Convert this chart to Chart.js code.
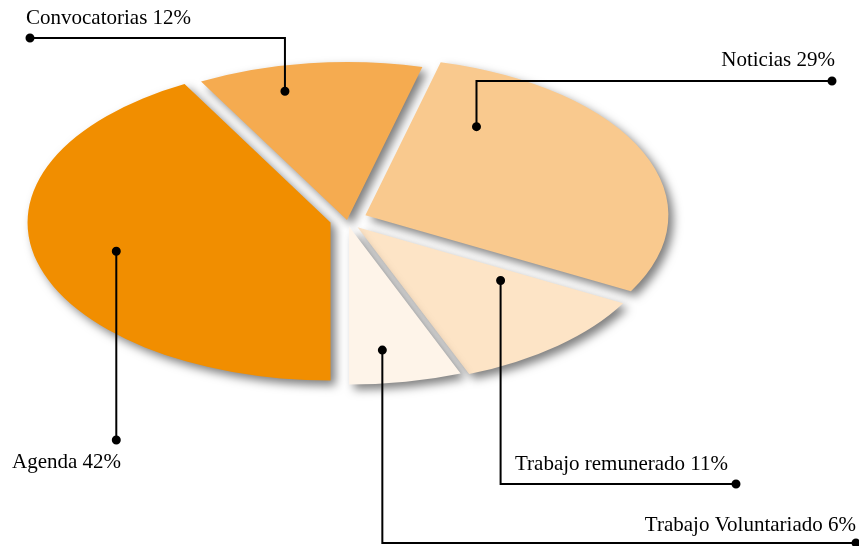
<!DOCTYPE html>
<html>
<head>
<meta charset="utf-8">
<script src="https://cdn.jsdelivr.net/npm/chart.js@4"></script>
<style>
  body { margin: 0; background: #fff; }
</style>
</head>
<body>
<canvas id="pieChart" width="859" height="546"></canvas>
<script>
// data, clockwise starting from the bottom
const categories = ['Agenda', 'Convocatorias', 'Noticias', 'Trabajo remunerado', 'Trabajo Voluntariado']
const shares = [42, 12, 29, 11, 6]

const colors = ['#F18E00', '#F5AB50', '#F9C98E', '#FDE4C6', '#FEF4E9']

// flattened pie: centre and radii in page pixels
const PIE = { x: 347, y: 220, rx: 303, ry: 158 }
const explode = [17, 0, 20, 16, 11]

// where the leader dot sits inside each slice (fraction of the sweep, fraction of radius)
const anchors = [[0.5, 0.73], [0.34, 0.84], [0.18, 0.67], [0.17, 0.58], [0.63, 0.79]]

// leader line + text layout
const callouts = [
  { lineY: 440, endX: null, textX: 12, textY: 468, align: 'left' },
  { lineY: 38, endX: 30, textX: 26, textY: 24, align: 'left' },
  { lineY: 81, endX: 832, textX: 835, textY: 66, align: 'right' },
  { lineY: 484, endX: 736, textX: 515, textY: 470, align: 'left' },
  { lineY: 543, endX: 856, textX: 856, textY: 531, align: 'right' }
]

function shift(arc, i) {
  const mid = (arc.startAngle + arc.endAngle) / 2
  return { dx: Math.cos(mid) * explode[i], dy: Math.sin(mid) * explode[i] * 0.6 }
}

const flatPie = {
  id: 'flatPie',
  beforeDatasetDraw(chart, args) {
    const ctx = chart.ctx
    const arcs = args.meta.data
    ctx.save()
    ctx.shadowColor = 'rgba(0,0,0,0.5)'
    ctx.shadowBlur = 10
    ctx.shadowOffsetX = 5
    ctx.shadowOffsetY = 5
    arcs.forEach((arc, i) => {
      const s = shift(arc, i)
      ctx.save()
      ctx.translate(PIE.x + s.dx, PIE.y + s.dy)
      ctx.scale(PIE.rx / arc.outerRadius, PIE.ry / arc.outerRadius)
      ctx.translate(-arc.x, -arc.y)
      arc.draw(ctx)
      ctx.restore()
    })
    ctx.restore()
    return false
  },
  afterDraw(chart) {
    const ctx = chart.ctx
    const arcs = chart.getDatasetMeta(0).data
    ctx.save()
    ctx.strokeStyle = '#000'
    ctx.fillStyle = '#000'
    ctx.lineWidth = 2
    ctx.font = '21px "Liberation Serif"'
    ctx.textBaseline = 'alphabetic'
    arcs.forEach((arc, i) => {
      const s = shift(arc, i)
      const a = arc.startAngle + (arc.endAngle - arc.startAngle) * anchors[i][0]
      const px = PIE.x + s.dx + Math.cos(a) * PIE.rx * anchors[i][1]
      const py = PIE.y + s.dy + Math.sin(a) * PIE.ry * anchors[i][1]
      const c = callouts[i]
      ctx.beginPath()
      ctx.moveTo(px, py)
      ctx.lineTo(px, c.lineY)
      let ex = px
      if (c.endX !== null) {
        ctx.lineTo(c.endX, c.lineY)
        ex = c.endX
      }
      ctx.stroke()
      ctx.beginPath()
      ctx.arc(px, py, 4.5, 0, Math.PI * 2)
      ctx.arc(ex, c.lineY, 4.5, 0, Math.PI * 2)
      ctx.fill()
      ctx.textAlign = c.align
      ctx.fillText(categories[i] + ' ' + shares[i] + '%', c.textX, c.textY)
    })
    ctx.restore()
  }
}

new Chart(document.getElementById('pieChart'), {
  type: 'pie',
  data: {
    labels: categories,
    datasets: [{
      data: shares,
      backgroundColor: colors,
      borderWidth: 0
    }]
  },
  options: {
    responsive: false,
    animation: false,
    rotation: 180,
    plugins: {
      legend: { display: false },
      tooltip: { enabled: false }
    }
  },
  plugins: [flatPie]
})
</script>
</body>
</html>
